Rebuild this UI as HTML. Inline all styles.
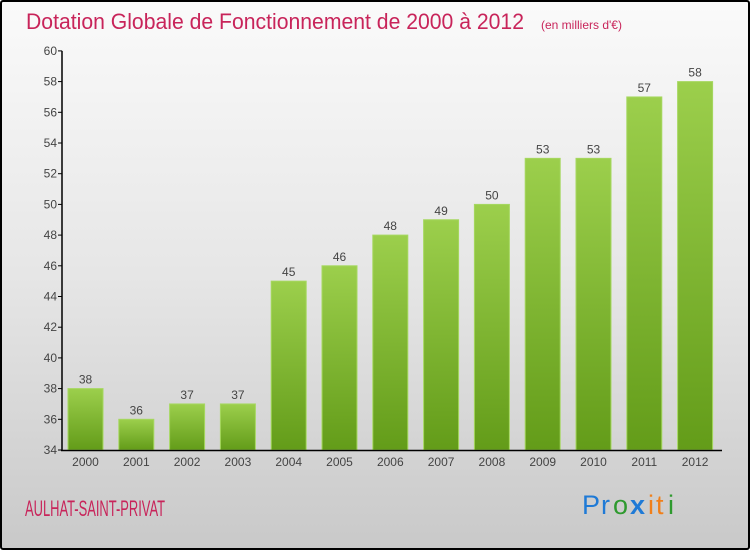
<!DOCTYPE html>
<html><head><meta charset="utf-8"><style>
body{margin:0;width:750px;height:550px;overflow:hidden;font-family:"Liberation Sans",sans-serif}
#wrap{position:absolute;left:0;top:0;width:746px;height:546px;border:2px solid #000;border-radius:3px;background:linear-gradient(#fafafa,#e6e6e6 50%,#c9c9c9)}
</style></head><body>
<div id="wrap">
<svg width="746" height="546" viewBox="2 2 746 546" style="position:absolute;left:0;top:0" id="svg">
<defs><linearGradient id="g" x1="0" y1="0" x2="0" y2="1"><stop offset="0" stop-color="#9ccf4c"/><stop offset="1" stop-color="#639c19"/></linearGradient></defs>
<text x="26" y="29" font-size="22" fill="#c8245a" textLength="498" lengthAdjust="spacingAndGlyphs">Dotation Globale de Fonctionnement de 2000 à 2012</text>
<text x="541" y="29" font-size="12" fill="#c8245a">(en milliers d'€)</text>
<text x="25" y="516" font-size="22" fill="#c8245a" textLength="140" lengthAdjust="spacingAndGlyphs">AULHAT-SAINT-PRIVAT</text>
<g font-size="27"><text x="582" y="514" fill="#1f7ad6">P</text><text x="601" y="514" fill="#1f7ad6">r</text><text x="613" y="514" fill="#2f9a2f">o</text><text x="630" y="514" fill="#1f7ad6" font-weight="bold">x</text><text x="648" y="514" fill="#f07f1a">i</text><text x="656" y="514" fill="#f07f1a">t</text><text x="668" y="514" fill="#2f9a2f">i</text></g>
<g id="chart"></g>
</svg></div>
<script>
const categories=["2000","2001","2002","2003","2004","2005","2006","2007","2008","2009","2010","2011","2012"];
const values=[38,36,37,37,45,46,48,49,50,53,53,57,58];
const yTicks=[34,36,38,40,42,44,46,48,50,52,54,56,58,60];
const y=v=>450-(v-34)*15.35;
const x=i=>85.5+i*50.8;
const NS="http://www.w3.org/2000/svg";
const g=document.getElementById('chart');
function mk(t,a){const e=document.createElementNS(NS,t);for(const k in a)e.setAttribute(k,a[k]);g.appendChild(e);return e;}
categories.forEach((c,i)=>{
 const r=mk('rect',{x:x(i)-17.5,y:y(values[i]),width:35,height:450-y(values[i]),fill:'url(#g)',stroke:'#a6d860','stroke-width':1});
 
 
 const t=mk('text',{x:x(i),y:y(values[i])-5,'text-anchor':'middle','font-size':12,fill:'#444'});t.textContent=values[i];
 
 
 const l=mk('text',{x:x(i),y:466,'text-anchor':'middle','font-size':12,fill:'#444'});l.textContent=c;
 
 
});
yTicks.forEach(v=>{
 const tk=mk('line',{x1:58,x2:62,y1:y(v),y2:y(v),stroke:'#000'});
 
 
 const t=mk('text',{x:57,y:y(v)+4,'text-anchor':'end','font-size':12,fill:'#444'});t.textContent=v;
 
 
});
const ya=mk('line',{x1:62,x2:62,y1:y(60),y2:451,stroke:'#000','stroke-width':1.5});


const xa=mk('line',{x1:61,x2:722,y1:450.5,y2:450.5,stroke:'#000','stroke-width':1.5});


</script>
</body></html>
